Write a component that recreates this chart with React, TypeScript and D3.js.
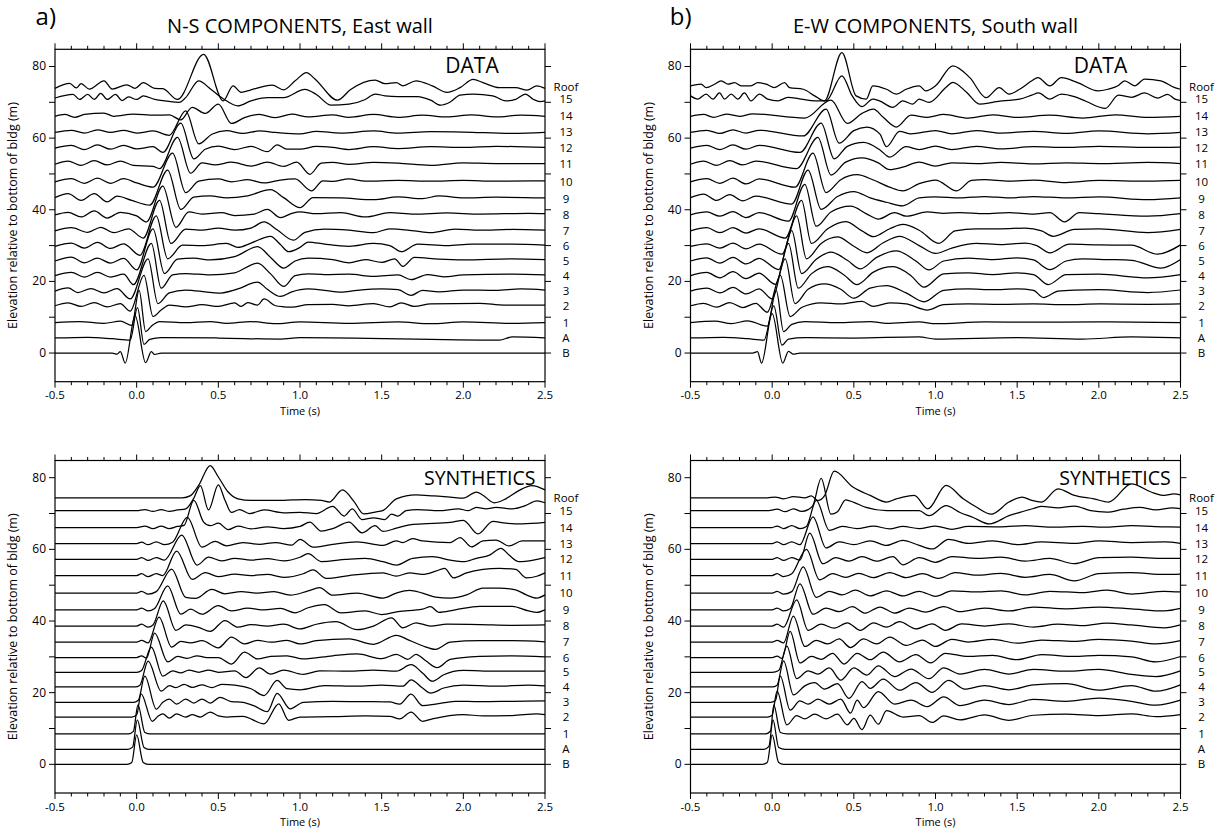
import React from "react";
import * as d3 from "d3";

const stationLabels = ["B", "A", "1", "2", "3", "4", "5", "6", "7", "8", "9", "10", "11", "12", "13", "14", "15", "Roof"];
const baseElev = [0, 4.2, 8.5, 13.2, 17.3, 21.6, 25.7, 29.8, 34.1, 38.6, 43.1, 47.8, 52.7, 57.2, 61.6, 66.1, 70.8, 74.4];
const timeLabels = [-0.5, 0, 0.5, 1, 1.5, 2, 2.5];
const elevLabels = [0, 20, 40, 60, 80];

// traces: [t, offset(m), t, offset, ...] ordered B, A, 1..15, Roof
const nsData: number[][] = [
  [-0.5,0, -0.15,0, -0.12,-0.3, -0.1,0.4, -0.07,-2.8, -0.01,10.5, 0.055,-2.7, 0.09,0.4, 0.11,-0.4, 0.15,0, 2.5,0],
  [-0.5,0, -0.3,0.2, -0.15,-0.2, -0.04,-0.6, 0.005,8.5, 0.045,-1.8, 0.08,-0.4, 0.15,0.1, 0.5,0, 0.88,-0.3, 1.0,0.1, 2.22,-0.6, 2.3,0.3, 2.5,0],
  [-0.5,0, -0.35,0.3, -0.2,-0.2, -0.1,0.4, -0.03,-0.8, 0.015,9, 0.055,-2.5, 0.09,-1, 0.14,0.3, 0.3,0, 0.45,0.3, 0.55,-0.2, 0.7,0.3, 0.85,-0.3, 1.0,0.2, 1.3,-0.2, 1.6,0.2, 1.8,-0.3, 2.0,0.2, 2.3,-0.2, 2.5,0],
  [-0.5,0, -0.42,0.8, -0.34,-0.2, -0.26,0.9, -0.18,-0.3, -0.1,0.6, -0.04,-1.5, 0.045,8.5, 0.1,-3, 0.15,-1.2, 0.2,0.2, 0.3,-0.3, 0.4,0.3, 0.5,-0.2, 0.6,0.8, 0.64,-0.2, 0.68,0.9, 0.74,0.2, 0.78,1.9, 0.85,0, 0.9,-0.3, 0.95,-0.4, 1.05,0.3, 1.2,0.4, 1.3,0, 1.45,0.6, 1.55,-0.3, 1.62,0.8, 1.7,-0.2, 1.8,0.5, 2.1,0.7, 2.25,0.2, 2.5,0.2],
  [-0.5,0, -0.42,0.9, -0.36,-0.4, -0.28,0.7, -0.2,-0.5, -0.12,0.7, -0.04,-2.2, 0.07,9, 0.13,-3.5, 0.2,-0.5, 0.3,0.3, 0.42,-0.2, 0.5,-0.6, 0.62,0.6, 0.74,2.5, 0.8,0.5, 0.88,-1.5, 0.95,-0.2, 1.05,0.6, 1.15,0.2, 1.25,-0.3, 1.35,0.2, 1.5,0.6, 1.6,0.4, 1.68,-1.2, 1.75,0.2, 1.85,-0.2, 2.0,0.3, 2.2,0.2, 2.35,0.6, 2.5,0.3],
  [-0.5,0, -0.4,0.9, -0.32,-0.4, -0.24,0.9, -0.16,-0.4, -0.08,0.4, -0.02,-2.5, 0.09,9, 0.15,-3.5, 0.22,0.2, 0.3,0.6, 0.45,0.2, 0.6,0.8, 0.74,3.5, 0.82,0.5, 0.9,-3.0, 0.97,0, 1.05,0.5, 1.15,0.3, 1.3,0.4, 1.45,-0.2, 1.6,0.2, 1.68,-1.1, 1.78,0.3, 1.88,-0.3, 2.0,0.2, 2.3,0.4, 2.5,0.2],
  [-0.5,0, -0.4,1.1, -0.32,-0.5, -0.24,0.8, -0.16,-0.6, -0.08,0.7, 0,-2.5, 0.1,9, 0.17,-3.5, 0.25,0.5, 0.35,0.8, 0.45,0.3, 0.6,1.2, 0.74,4.0, 0.82,1.0, 0.9,-2.0, 0.97,0, 1.05,0.8, 1.2,0.4, 1.3,-0.5, 1.4,0.4, 1.5,-0.4, 1.58,0.6, 1.63,-1.5, 1.7,1.0, 1.85,0.5, 2.0,0.3, 2.3,0.6, 2.5,0.4],
  [-0.5,0, -0.4,0.9, -0.32,-0.5, -0.24,1.1, -0.16,-0.6, -0.08,0.7, 0.02,-2.5, 0.12,8.5, 0.19,-3.5, 0.28,0.3, 0.4,0.2, 0.55,0.8, 0.62,-0.3, 0.7,0.9, 0.82,2.8, 0.88,0.5, 0.93,-1.5, 1.0,-0.3, 1.05,1.2, 1.15,0.6, 1.3,0, 1.45,0.8, 1.55,0.2, 1.62,-1.5, 1.72,0.6, 1.9,0.2, 2.05,0.6, 2.3,0.6, 2.5,0.3],
  [-0.5,0, -0.4,0.9, -0.3,-0.4, -0.22,1.0, -0.14,-0.5, -0.05,0.6, 0.04,-2.0, 0.14,8.5, 0.21,-3.5, 0.3,0.5, 0.4,0.2, 0.5,0.8, 0.6,0.2, 0.7,0.8, 0.78,2.5, 0.86,0.3, 0.96,-2.6, 1.03,-0.4, 1.15,0.5, 1.3,0.2, 1.45,-0.5, 1.55,0.6, 1.7,0, 1.8,-0.5, 1.95,0.5, 2.1,0.2, 2.3,0.4, 2.5,0.2],
  [-0.5,0, -0.42,0.7, -0.34,-0.6, -0.26,1.1, -0.18,-0.9, -0.1,0.7, 0,-0.3, 0.06,-2.0, 0.16,8, 0.24,-3.5, 0.32,0.8, 0.4,0.2, 0.52,0.6, 0.6,-0.2, 0.72,0.2, 0.8,1.5, 0.88,-0.8, 0.95,0.4, 1.0,0.8, 1.1,0.3, 1.25,0.6, 1.4,-0.6, 1.55,0.6, 1.7,0.2, 1.9,0.5, 2.1,0.2, 2.4,0.4, 2.5,0.3],
  [-0.5,0.3, -0.42,1.4, -0.34,-0.5, -0.26,1.4, -0.18,-0.9, -0.12,0.7, -0.03,-0.5, 0.08,-1.8, 0.19,8, 0.27,-3, 0.35,0.4, 0.45,0.8, 0.55,0.2, 0.68,0.8, 0.82,2.5, 0.9,0.3, 1.0,-2.5, 1.08,0.3, 1.25,0.2, 1.45,-0.3, 1.6,0.5, 1.75,0, 1.85,0.8, 2.0,0.2, 2.2,0.4, 2.5,0.2],
  [-0.5,0, -0.4,0.9, -0.32,-0.4, -0.24,1.0, -0.16,-0.4, -0.08,0.9, 0,-0.3, 0.1,-1.5, 0.22,8, 0.3,-3, 0.38,0.2, 0.5,0.8, 0.58,0, 0.68,0.6, 0.78,-0.3, 0.88,0.5, 0.97,0.8, 1.07,-2.5, 1.14,0.3, 1.2,0.1, 1.3,0.8, 1.4,0.2, 1.6,0.4, 1.8,0.2, 2.0,0.4, 2.2,0.2, 2.5,0.3],
  [-0.5,0, -0.42,0.9, -0.34,-0.3, -0.26,1.0, -0.18,-0.2, -0.1,0.9, -0.02,-0.3, 0.1,-0.6, 0.14,-1.2, 0.25,7.5, 0.33,-2.5, 0.4,0.4, 0.48,-0.2, 0.58,0.6, 0.7,-0.5, 0.8,0.6, 0.9,-0.6, 0.98,0.6, 1.06,-2.8, 1.13,0.3, 1.2,0.5, 1.3,0, 1.45,0.5, 1.6,0.3, 1.8,-0.3, 2.0,0.4, 2.2,0.2, 2.5,0.2],
  [-0.5,0, -0.4,0.8, -0.32,-0.4, -0.24,0.9, -0.16,-0.3, -0.08,0.8, 0,-0.2, 0.1,0.4, 0.16,-1.2, 0.27,7, 0.35,-3, 0.42,-0.3, 0.5,0.6, 0.6,-0.4, 0.7,0.5, 0.8,-1.0, 0.86,0.9, 0.92,-0.3, 1.0,-0.3, 1.1,0.5, 1.2,0.2, 1.3,-0.4, 1.45,0.4, 1.6,-0.1, 1.8,0.4, 2.0,0.2, 2.2,0.5, 2.5,0.2],
  [-0.5,0, -0.4,0.6, -0.32,-0.2, -0.24,0.7, -0.16,0, -0.08,0.6, 0,-0.2, 0.1,0.4, 0.2,-0.8, 0.3,6, 0.38,-3.2, 0.46,-0.5, 0.55,0.5, 0.65,-0.3, 0.75,0.4, 0.85,0, 1.0,-0.4, 1.1,0.3, 1.25,-0.2, 1.45,0.4, 1.6,-0.2, 1.8,0.2, 2.0,0.1, 2.3,-0.3, 2.5,0],
  [-0.5,0, -0.44,0.5, -0.38,-0.3, -0.32,0.5, -0.2,0.9, -0.14,0, -0.02,0.6, 0.11,0.3, 0.2,0.4, 0.27,-1.0, 0.34,2.5, 0.42,0.8, 0.5,3.4, 0.58,-2.0, 0.66,-0.4, 0.75,0.5, 0.85,-0.4, 0.95,0.6, 1.05,-0.2, 1.2,0.4, 1.3,-0.3, 1.45,0.5, 1.6,-0.3, 1.75,0.3, 1.9,-0.2, 2.05,0.4, 2.2,-0.2, 2.35,0.3, 2.5,0],
  [-0.5,0.4, -0.39,1.4, -0.35,0, -0.3,1.4, -0.26,0, -0.22,1.7, -0.18,0, -0.13,1.4, -0.09,-0.3, -0.05,0.7, 0,0, 0.04,1.0, 0.11,0, 0.19,-0.5, 0.26,-0.8, 0.3,0.5, 0.38,5.2, 0.45,3.0, 0.53,0.2, 0.62,-1.8, 0.7,-0.4, 0.8,0.5, 0.9,0.5, 1.03,2.8, 1.1,1.4, 1.19,-1.6, 1.3,-1.3, 1.4,0, 1.46,1.5, 1.52,1.0, 1.6,0.8, 1.72,0.8, 1.8,-0.2, 1.86,-1.6, 1.92,-0.7, 1.98,1.2, 2.06,1.5, 2.18,1.0, 2.26,-0.4, 2.32,0, 2.38,1.5, 2.43,0, 2.47,-0.6, 2.5,-0.4],
  [-0.5,-0.5, -0.41,0.9, -0.37,-0.4, -0.34,0.8, -0.29,-0.7, -0.2,1.6, -0.15,-0.7, -0.06,0.5, -0.01,-0.5, 0.04,1.1, 0.11,-0.5, 0.16,-0.6, 0.25,-3.6, 0.41,9.0, 0.53,-4.0, 0.59,0.2, 0.64,-1.6, 0.7,-0.9, 0.83,0.4, 0.9,-0.9, 0.97,1.6, 1.04,3.9, 1.09,2.2, 1.23,-3.8, 1.31,-0.8, 1.46,1.8, 1.52,0.8, 1.59,1.1, 1.63,0.2, 1.71,1.6, 1.81,0.2, 1.9,-1.6, 1.98,-0.3, 2.06,2.0, 2.12,1.1, 2.22,-0.3, 2.32,-0.3, 2.39,-1.0, 2.45,0.2, 2.5,-0.5],
];

const ewData: number[][] = [
  [-0.5,0, -0.12,0, -0.09,0.4, -0.065,-2.8, 0,11, 0.065,-2.8, 0.1,0.5, 0.13,-0.3, 0.17,0, 2.5,0],
  [-0.5,0, -0.3,0.2, -0.15,-0.2, -0.05,-0.6, 0.01,9, 0.06,-2, 0.1,-0.3, 0.2,0.1, 0.5,0, 0.9,0.3, 1.0,-0.3, 1.5,0.1, 1.9,-0.3, 2.2,0.3, 2.5,0],
  [-0.5,0, -0.35,0.4, -0.25,-0.3, -0.15,0.5, -0.03,-1, 0.025,9, 0.07,-2.5, 0.12,-0.5, 0.2,0.3, 0.4,0, 0.6,0.3, 0.7,-0.2, 0.9,0.2, 1.0,-0.3, 1.3,0.2, 1.6,0.1, 2.0,0.2, 2.5,0],
  [-0.5,0, -0.42,0.7, -0.34,-0.4, -0.26,0.9, -0.18,-0.5, -0.1,0.7, -0.03,-1.8, 0.05,8.5, 0.11,-3, 0.18,-0.5, 0.3,0.8, 0.42,0.5, 0.55,1.2, 0.62,-0.2, 0.72,0.8, 0.82,0.5, 0.95,-1.2, 1.05,0.3, 1.2,0.5, 1.4,0.4, 1.6,0.5, 1.8,0.3, 2.0,0.5, 2.3,0.4, 2.5,0.5],
  [-0.5,0, -0.4,0.8, -0.32,-0.5, -0.24,1.0, -0.16,-0.8, -0.08,0.6, 0,-2.2, 0.08,9, 0.14,-3.5, 0.22,0.5, 0.32,2.0, 0.42,0.5, 0.5,-2.0, 0.6,0.8, 0.7,1.5, 0.82,-0.5, 0.93,-3.0, 1.05,0.2, 1.2,0.6, 1.35,0.4, 1.5,0.6, 1.6,0.2, 1.66,-1.8, 1.75,0.0, 1.85,0.3, 2.0,0.4, 2.3,-0.4, 2.5,0.3],
  [-0.5,0, -0.4,0.9, -0.32,-0.6, -0.24,1.1, -0.16,-0.8, -0.08,0.7, 0.02,-2.4, 0.1,9, 0.16,-3.5, 0.24,0.5, 0.34,2.5, 0.44,0.2, 0.52,-2.5, 0.62,1.0, 0.74,2.5, 0.85,0, 0.93,-3.2, 1.05,0.5, 1.2,0.8, 1.35,0.3, 1.5,0.8, 1.6,0.3, 1.69,-2.5, 1.8,0.3, 2.0,0.4, 2.3,-0.6, 2.5,0.3],
  [-0.5,0, -0.4,0.9, -0.32,-0.6, -0.24,1.0, -0.16,-0.8, -0.08,0.7, 0.04,-2.4, 0.12,8.5, 0.18,-3.5, 0.27,0.5, 0.36,2.5, 0.46,0.2, 0.54,-2.2, 0.64,1.0, 0.76,2.8, 0.88,0, 0.96,-2.5, 1.05,0, 1.2,0.8, 1.35,0.4, 1.5,0.9, 1.6,0.3, 1.7,-2.4, 1.8,0.0, 1.9,0.6, 2.05,0.4, 2.2,0.2, 2.38,-2.0, 2.5,0.4],
  [-0.5,0, -0.4,0.7, -0.32,-0.5, -0.24,0.9, -0.16,-0.7, -0.08,0.6, 0.06,-2.2, 0.15,8.5, 0.21,-3.5, 0.3,0.8, 0.4,2.6, 0.5,0, 0.58,-1.8, 0.68,1.0, 0.78,2.8, 0.9,0.2, 1.0,-2.0, 1.1,-0.5, 1.25,0.8, 1.4,0.5, 1.55,0.9, 1.62,0.2, 1.7,-1.8, 1.82,0.6, 2.0,0.4, 2.2,0.3, 2.36,-2.2, 2.5,0.4],
  [-0.5,0, -0.4,0.9, -0.32,-0.5, -0.24,0.9, -0.16,-0.6, -0.08,0.6, 0.08,-2, 0.18,8.5, 0.24,-3.5, 0.34,0.6, 0.45,2.6, 0.55,0, 0.62,-1.6, 0.72,0.6, 0.8,1.8, 0.9,0.2, 1.02,-3.5, 1.12,0, 1.25,0.6, 1.4,0.6, 1.55,0.8, 1.65,0, 1.72,-1.5, 1.85,0.4, 2.0,0.6, 2.3,-0.5, 2.5,0.4],
  [-0.5,0, -0.4,0.8, -0.32,-0.4, -0.24,0.9, -0.16,-0.8, -0.08,0.6, 0.1,-1.8, 0.2,8.5, 0.27,-3.2, 0.36,0.8, 0.48,2.4, 0.58,0.2, 0.65,-1.2, 0.75,0.6, 0.82,-0.4, 0.95,0.8, 1.05,0.4, 1.15,0.6, 1.3,0.3, 1.45,0.6, 1.6,0.2, 1.7,0.6, 1.79,-2.0, 1.88,0.6, 2.0,0.3, 2.3,-0.4, 2.5,0.3],
  [-0.5,0.3, -0.42,1.3, -0.34,-0.5, -0.26,1.1, -0.18,-0.6, -0.1,0.7, 0.12,-1.5, 0.22,8, 0.3,-3, 0.4,0.6, 0.5,2.0, 0.6,0.2, 0.7,-1.0, 0.8,-2.0, 0.9,0.2, 1.0,0.5, 1.15,0.2, 1.3,0.6, 1.45,0.2, 1.6,0.6, 1.8,0.2, 2.0,0.5, 2.3,-0.3, 2.5,0.2],
  [-0.5,0, -0.4,0.9, -0.32,-0.4, -0.24,1.0, -0.16,-0.6, -0.08,0.8, 0.14,-1.5, 0.25,8, 0.33,-3, 0.42,0.6, 0.52,2.0, 0.62,0.5, 0.72,-1.5, 0.8,-2.5, 0.9,-0.5, 1.0,0.5, 1.13,-2.5, 1.22,0.4, 1.3,0.6, 1.45,0.2, 1.6,0.5, 1.8,-0.2, 2.0,0.4, 2.3,0.2, 2.5,0.4],
  [-0.5,0, -0.42,0.9, -0.34,-0.3, -0.26,1.0, -0.18,-0.2, -0.1,0.9, 0.15,-1.2, 0.28,7.5, 0.36,-3, 0.45,0.6, 0.55,1.8, 0.65,0.4, 0.72,-1.5, 0.8,-0.8, 0.9,0.6, 1.0,-0.5, 1.1,0.4, 1.25,0.2, 1.4,0.5, 1.6,0.1, 1.8,0.4, 2.0,0.2, 2.3,0.5, 2.5,0.2],
  [-0.5,0, -0.4,0.8, -0.32,-0.4, -0.24,0.9, -0.16,-0.3, -0.08,0.8, 0.17,-1.2, 0.3,7, 0.38,-3, 0.46,0.5, 0.56,1.6, 0.66,-0.5, 0.72,-2.5, 0.82,0.4, 0.9,-0.4, 1.0,0.6, 1.1,-0.4, 1.25,0.5, 1.4,-0.2, 1.6,0.4, 1.8,0.2, 2.0,0.5, 2.3,0.2, 2.5,0.3],
  [-0.5,0, -0.4,0.6, -0.32,-0.3, -0.24,0.7, -0.16,-0.2, -0.08,0.6, 0.19,-1.0, 0.33,6.5, 0.41,-3, 0.5,0.5, 0.58,1.5, 0.66,-0.5, 0.7,-4.0, 0.78,0.3, 0.85,-0.4, 1.0,0.5, 1.1,-0.4, 1.25,0.5, 1.4,-0.2, 1.6,0.3, 1.8,-0.3, 2.0,0.4, 2.3,-0.4, 2.5,0],
  [-0.5,0, -0.42,0.5, -0.36,-0.3, -0.28,0.6, -0.2,0, -0.12,0.7, 0.2,-0.5, 0.36,4.5, 0.46,-2, 0.55,0.8, 0.62,2.0, 0.68,-0.3, 0.76,-3.0, 0.85,0.3, 0.95,-0.3, 1.05,0.5, 1.2,-0.5, 1.35,0.4, 1.5,-0.3, 1.7,0.3, 1.9,-0.5, 2.1,0.4, 2.3,-0.3, 2.5,0],
  [-0.5,1.0, -0.455,0.1, -0.404,1.5, -0.363,0.1, -0.322,1.8, -0.292,0.1, -0.251,1.5, -0.21,0.1, -0.17,1.8, -0.129,-0.4, -0.078,1.5, -0.027,0.1, 0.035,-0.4, 0.096,0.55, 0.178,0.1, 0.26,-0.4, 0.33,-0.4, 0.427,6.6, 0.49,1.0, 0.55,-2.0, 0.616,0.1, 0.657,-0.4, 0.739,-2.2, 0.8,-0.4, 0.86,-1.3, 0.9,0.1, 0.96,-0.8, 1.065,3.4, 1.106,4.8, 1.19,2.0, 1.27,-1.3, 1.35,-0.8, 1.41,-0.4, 1.515,0.1, 1.59,1.2, 1.63,1.8, 1.7,0.1, 1.77,1.5, 1.85,0.8, 1.92,-0.5, 2.04,-2.5, 2.12,1.2, 2.2,0.6, 2.28,1.8, 2.36,0.4, 2.42,1.4, 2.47,0.0, 2.5,-0.3],
  [-0.5,0.2, -0.435,0.65, -0.404,-0.3, -0.353,0.65, -0.312,1.6, -0.27,0.65, -0.23,1.1, -0.19,0.2, -0.13,0.2, -0.088,1.1, -0.037,0.65, 0.014,-0.3, 0.076,1.1, 0.106,-0.3, 0.19,-0.75, 0.26,-2.6, 0.32,-4.0, 0.427,9.5, 0.514,-2.6, 0.576,-3.5, 0.616,0.2, 0.7,-0.75, 0.76,-2.1, 0.82,-0.75, 0.9,0.2, 0.94,-1.2, 1.0,0.2, 1.106,5.8, 1.21,2.5, 1.31,-3.1, 1.39,-0.3, 1.45,-2.1, 1.515,-0.75, 1.59,1.6, 1.627,2.5, 1.7,0.2, 1.77,2.5, 1.87,1.1, 1.995,-1.2, 2.056,-0.75, 2.117,0.2, 2.158,1.6, 2.22,0.2, 2.28,2.05, 2.38,1.6, 2.465,-0.3, 2.5,-0.75],
];

const nsSynth: number[][] = [
  [-0.5,0, -0.06,0, -0.03,0.5, 0.0,8.2, 0.04,0.5, 0.07,0, 2.5,0],
  [-0.5,0, -0.055,0, -0.025,0.6, 0.004,8.2, 0.045,0.5, 0.075,0, 2.5,0],
  [-0.5,0, -0.05,0, -0.02,0.7, 0.008,8.1, 0.05,0.4, 0.085,0, 2.5,0],
  [-0.5,0, -0.03,0, 0.0,0.6, 0.027,6.5, 0.096,-1.2, 0.13,0.2, 0.16,0.9, 0.2,-0.3, 0.245,0.9, 0.3,0, 0.34,0.65, 0.39,0, 0.45,1.4, 0.5,0.3, 0.55,0, 0.65,0.2, 0.78,-1.9, 0.87,3.7, 0.93,-0.9, 1.0,0, 1.2,0.1, 1.4,0.3, 1.55,0.2, 1.61,-0.5, 1.68,1.4, 1.75,-1.2, 1.81,-0.5, 2.0,0.7, 2.12,0.3, 2.3,0.4, 2.45,0.9, 2.5,0.7],
  [-0.5,0, -0.02,0, 0.01,0.6, 0.05,7.3, 0.12,-1.9, 0.16,0, 0.2,0.9, 0.245,-0.5, 0.3,0.9, 0.35,-0.2, 0.4,0.9, 0.45,-0.2, 0.51,1.4, 0.58,0.2, 0.65,0, 0.72,-1.0, 0.8,-2.6, 0.86,2.5, 0.94,-1.8, 1.02,0, 1.2,0.3, 1.4,0.2, 1.55,0.1, 1.61,-0.5, 1.68,2.3, 1.75,-0.9, 1.83,-0.5, 1.95,0.3, 2.1,0.2, 2.3,0.3, 2.5,0.4],
  [-0.5,0, -0.01,0, 0.02,0.5, 0.07,7.2, 0.15,-1.2, 0.2,0.4, 0.24,-0.2, 0.29,0.7, 0.34,-0.1, 0.4,0.6, 0.46,-0.2, 0.52,0.7, 0.6,0.5, 0.7,-0.5, 0.78,-2.4, 0.86,1.8, 0.92,-0.5, 1.0,-0.8, 1.15,0.4, 1.35,0.2, 1.5,0.5, 1.63,0.2, 1.68,2.0, 1.75,-0.3, 1.8,-1.7, 1.88,-0.3, 2.0,0.5, 2.2,0.2, 2.4,0.5, 2.5,0.3],
  [-0.5,0, 0.0,0, 0.03,0.5, 0.09,7.0, 0.16,-1.1, 0.22,0.4, 0.27,-0.2, 0.32,0.6, 0.38,0.0, 0.44,0.6, 0.5,0, 0.6,0.4, 0.67,-1.5, 0.75,1.2, 0.82,-0.5, 0.9,0.6, 1.02,-0.6, 1.12,0.4, 1.3,0.3, 1.45,0.6, 1.59,0.3, 1.68,2.1, 1.75,-0.2, 1.81,-2.5, 1.88,-0.7, 2.0,0.5, 2.2,0.3, 2.5,0.3],
  [-0.5,0, 0.0,0, 0.03,0.5, 0.06,-0.2, 0.11,6.8, 0.19,-1.2, 0.25,0.3, 0.31,-0.2, 0.37,0.5, 0.43,0, 0.5,0, 0.58,-1.8, 0.66,1.5, 0.74,-0.4, 0.82,0.3, 0.92,0.5, 1.02,-0.4, 1.2,0.5, 1.35,1.0, 1.5,-0.3, 1.59,0.9, 1.66,-0.5, 1.71,0.9, 1.77,-0.9, 1.84,-2.8, 1.92,-0.5, 2.1,0.3, 2.3,0.5, 2.5,0.2],
  [-0.5,0, 0.0,0, 0.03,0.5, 0.07,-0.2, 0.137,7.0, 0.214,-1.4, 0.27,0.2, 0.33,-0.2, 0.4,0.4, 0.5,-1.6, 0.58,1.4, 0.66,-0.5, 0.74,0.5, 0.82,0, 0.92,0.5, 1.0,-0.5, 1.1,0.4, 1.3,0.9, 1.45,-0.6, 1.59,1.9, 1.67,0.5, 1.75,-1.0, 1.83,-2.0, 1.92,0.0, 2.1,0.4, 2.3,0.4, 2.5,0.1],
  [-0.5,0, 0.0,0, 0.03,0.5, 0.07,-0.3, 0.1,0.3, 0.163,7.0, 0.24,-1.2, 0.3,0.3, 0.38,-0.4, 0.45,-1.5, 0.54,1.5, 0.62,-0.3, 0.7,0.4, 0.8,0, 0.9,0.5, 1.0,-0.8, 1.1,0.5, 1.22,1.2, 1.35,-1.0, 1.45,0.0, 1.56,2.3, 1.63,-0.5, 1.71,0.9, 1.8,0.0, 1.9,0.5, 2.1,0.4, 2.3,0.2, 2.5,0.3],
  [-0.5,0, 0.0,0, 0.03,0.5, 0.07,-0.3, 0.11,0.4, 0.19,6.7, 0.27,-1.2, 0.33,0.2, 0.4,-1.2, 0.5,1.2, 0.58,-0.3, 0.68,0.5, 0.78,0, 0.88,0.4, 0.97,-0.8, 1.05,0.6, 1.15,1.5, 1.25,-0.8, 1.4,-0.3, 1.5,-1.3, 1.6,-0.5, 1.75,0.2, 1.8,0.9, 1.85,-0.7, 1.95,0.0, 2.1,1.0, 2.3,1.0, 2.4,-0.3, 2.45,-0.7, 2.5,0.0],
  [-0.5,0, 0.0,0, 0.03,0.5, 0.07,-0.3, 0.12,0.4, 0.214,6.7, 0.3,-1.2, 0.36,-1.5, 0.46,1.0, 0.54,-0.2, 0.64,0.4, 0.74,0, 0.84,0.4, 0.94,-0.6, 1.05,0.6, 1.12,1.5, 1.2,-0.6, 1.35,0.0, 1.508,-1.4, 1.59,0.0, 1.67,0.75, 1.75,0.0, 1.83,-1.1, 1.92,-1.4, 2.02,-0.5, 2.12,1.4, 2.22,1.4, 2.32,0.9, 2.386,-0.5, 2.45,-1.4, 2.5,-0.5],
  [-0.5,0, 0.0,0, 0.03,0.5, 0.07,-0.3, 0.12,0.5, 0.16,0.0, 0.245,6.8, 0.34,-1.1, 0.42,0.8, 0.5,-0.3, 0.6,0.4, 0.7,0, 0.8,0.3, 0.9,-0.5, 1.02,0.5, 1.08,1.6, 1.16,-0.8, 1.3,0.0, 1.508,0.75, 1.59,-0.2, 1.67,0.75, 1.75,0.3, 1.83,1.2, 1.885,2.0, 1.94,-0.65, 2.02,0.75, 2.12,1.7, 2.22,2.0, 2.32,1.7, 2.386,-0.65, 2.45,-0.2, 2.5,0.75],
  [-0.5,0, 0.0,0, 0.03,0.5, 0.07,-0.3, 0.12,0.5, 0.17,-0.2, 0.276,6.8, 0.37,-1.6, 0.44,0.6, 0.52,-0.4, 0.6,0.3, 0.7,-0.2, 0.8,0.2, 0.9,-0.4, 1.0,0.6, 1.05,1.6, 1.13,-0.6, 1.28,0.0, 1.4,0.3, 1.508,-0.65, 1.59,-1.6, 1.69,0.3, 1.81,0.75, 1.92,-0.2, 2.0,-0.65, 2.08,0.3, 2.16,1.2, 2.23,3.1, 2.28,1.2, 2.34,-0.65, 2.43,-0.2, 2.5,0.5],
  [-0.5,0, 0.0,0, 0.03,0.4, 0.07,-0.3, 0.12,0.5, 0.17,-0.3, 0.22,0.4, 0.31,7.3, 0.4,-1.0, 0.48,0.6, 0.55,-0.6, 0.65,0.3, 0.75,-0.2, 0.85,0.3, 0.95,-0.4, 1.0,1.2, 1.08,-1.0, 1.2,-0.2, 1.35,0.5, 1.508,-0.5, 1.59,0.75, 1.63,0.3, 1.69,1.4, 1.75,0.75, 1.92,0.3, 1.98,1.7, 2.05,-0.9, 2.12,0.75, 2.2,1.0, 2.28,-0.65, 2.36,0.75, 2.5,0.75],
  [-0.5,0, 0.0,0, 0.05,0.4, 0.1,-0.3, 0.15,0.4, 0.2,-0.3, 0.25,0.3, 0.29,0.6, 0.35,7.6, 0.41,1.5, 0.45,0.5, 0.5,1.2, 0.56,-0.6, 0.62,0.4, 0.7,-0.4, 0.8,0.2, 0.9,-0.3, 1.0,0.3, 1.06,1.5, 1.13,-1.0, 1.2,-0.3, 1.3,1.5, 1.38,-1.5, 1.46,0.5, 1.508,-1.1, 1.59,-0.2, 1.67,0.75, 1.75,1.0, 1.92,1.4, 2.0,2.0, 2.09,-1.8, 2.18,1.7, 2.26,1.2, 2.36,1.0, 2.5,1.4],
  [-0.5,0, 0.0,0, 0.05,0.3, 0.1,-0.2, 0.15,0.3, 0.2,-0.2, 0.25,0.2, 0.3,0.5, 0.35,3.5, 0.39,7.0, 0.44,0.2, 0.5,7.2, 0.54,3, 0.58,-0.5, 0.63,0.3, 0.69,-0.8, 0.78,0.2, 0.9,-0.6, 1.0,-0.5, 1.1,-0.8, 1.2,1.2, 1.27,-1.5, 1.32,0.5, 1.38,-2.5, 1.45,-2.0, 1.52,-2.5, 1.56,-1.0, 1.6,-1.5, 1.65,0.0, 1.72,0.3, 1.85,0.0, 1.97,0.5, 2.03,0.0, 2.08,0.9, 2.14,0.5, 2.2,0.9, 2.3,0.5, 2.38,1.4, 2.45,2.7, 2.5,2.2],
  [-0.5,0, 0.28,0, 0.33,0.6, 0.38,3.5, 0.45,9.0, 0.5,5.8, 0.56,1.6, 0.62,-0.3, 0.7,-0.75, 0.8,-0.75, 0.9,-0.7, 1.03,-0.5, 1.13,-0.75, 1.18,-1.2, 1.26,2.2, 1.33,-1.0, 1.39,-4.5, 1.46,-4.0, 1.51,-3.5, 1.59,-0.3, 1.71,0.8, 1.82,0.5, 1.92,0.2, 2.0,-0.1, 2.08,1.6, 2.12,0.7, 2.19,-1.4, 2.26,-0.3, 2.34,2.0, 2.42,3.4, 2.5,2.2],
];

const ewSynth: number[][] = [
  [-0.5,0, -0.06,0, -0.03,0.5, 0.0,8.2, 0.04,0.5, 0.07,0, 2.5,0],
  [-0.5,0, -0.05,0, -0.02,0.8, 0.005,8.2, 0.04,0.5, 0.08,0, 2.5,0],
  [-0.5,0, -0.04,0, -0.01,0.8, 0.01,8.1, 0.05,0.4, 0.09,0, 2.5,0],
  [-0.5,0, -0.03,0, 0.0,0.5, 0.03,7.2, 0.09,-2.2, 0.15,0.4, 0.2,-0.5, 0.26,0.8, 0.33,-0.5, 0.4,0.8, 0.46,-2.2, 0.5,-0.4, 0.55,-3.5, 0.6,0.5, 0.65,-2.0, 0.7,1.8, 0.8,0, 0.9,0.4, 0.98,-1.5, 1.05,0.3, 1.15,-0.8, 1.3,0.6, 1.45,-0.9, 1.6,0.5, 1.8,0.8, 2.0,0.4, 2.2,0.9, 2.35,0.1, 2.5,0.7],
  [-0.5,0, -0.01,0, 0.02,0.5, 0.05,7.3, 0.11,-2.2, 0.17,0.4, 0.22,-0.5, 0.28,0.9, 0.35,-0.5, 0.42,0.9, 0.48,-3.0, 0.52,0.6, 0.56,-1.5, 0.65,3.0, 0.75,-0.5, 0.85,0.6, 0.95,-1.2, 1.05,1.5, 1.15,-0.9, 1.3,0.6, 1.45,-0.6, 1.6,0.8, 1.8,0.3, 2.0,1.2, 2.2,0.3, 2.35,-0.8, 2.5,0.6],
  [-0.5,0, 0.0,0, 0.03,0.5, 0.07,7.3, 0.13,-2.2, 0.2,0.3, 0.26,1.2, 0.32,-0.6, 0.4,0.9, 0.47,-3.2, 0.55,1.5, 0.6,-0.4, 0.68,2.2, 0.78,-0.9, 0.88,1.2, 0.98,-1.5, 1.08,1.8, 1.18,-0.6, 1.3,0.4, 1.45,-0.8, 1.6,0.6, 1.8,0.9, 2.0,-0.9, 2.2,0.4, 2.35,-1.2, 2.5,0.6],
  [-0.5,0, 0.0,0, 0.04,0.5, 0.09,7.3, 0.15,-1.8, 0.22,0.4, 0.28,-0.5, 0.35,1.2, 0.42,-2.2, 0.5,1.2, 0.58,-0.8, 0.65,1.8, 0.75,-1.2, 0.85,0.9, 0.96,-1.8, 1.05,1.2, 1.15,-0.5, 1.3,0.8, 1.45,-0.5, 1.6,0.8, 1.8,0.3, 2.0,0.8, 2.2,-0.6, 2.35,-1.2, 2.5,0.4],
  [-0.5,0, 0.0,0, 0.03,0.4, 0.06,-0.2, 0.11,7.3, 0.17,-1.5, 0.24,0.3, 0.3,-0.5, 0.37,1.2, 0.44,-1.8, 0.52,1.2, 0.6,-0.6, 0.68,1.5, 0.78,-1.2, 0.88,0.8, 0.97,-1.5, 1.06,1.2, 1.2,0.3, 1.35,0.6, 1.5,-0.6, 1.65,0.8, 1.85,0.3, 2.0,0.6, 2.2,0.2, 2.35,-1.2, 2.5,0.3],
  [-0.5,0, 0.0,0, 0.03,0.5, 0.07,-0.2, 0.13,7.3, 0.2,-1.2, 0.27,0.5, 0.34,-0.5, 0.41,0.9, 0.48,-1.5, 0.56,0.9, 0.64,-0.5, 0.72,1.4, 0.82,-0.9, 0.92,0.6, 1.0,-1.2, 1.1,0.8, 1.2,0.0, 1.35,0.8, 1.5,-0.3, 1.65,0.6, 1.85,0.2, 2.0,0.8, 2.2,0.3, 2.35,-0.5, 2.5,0.4],
  [-0.5,0, 0.0,0, 0.03,0.5, 0.07,-0.3, 0.15,7.3, 0.22,-1.2, 0.3,0.5, 0.38,-0.6, 0.46,0.9, 0.54,-1.2, 0.62,0.9, 0.7,-0.3, 0.78,1.2, 0.88,-0.8, 0.98,0.6, 1.06,-1.2, 1.16,0.6, 1.3,0.0, 1.45,0.6, 1.6,-0.3, 1.75,0.5, 1.9,0.1, 2.05,0.8, 2.2,0.3, 2.4,-0.5, 2.5,0.3],
  [-0.5,0, 0.0,0, 0.03,0.5, 0.07,-0.3, 0.11,0.3, 0.17,7.3, 0.25,-1.2, 0.33,0.5, 0.41,-0.5, 0.49,0.9, 0.57,-0.9, 0.66,0.8, 0.75,-0.9, 0.84,0.5, 0.94,-0.6, 1.05,0.9, 1.15,-0.5, 1.3,0.5, 1.45,-0.3, 1.6,0.8, 1.8,0.3, 2.0,0.8, 2.2,0.3, 2.4,-0.3, 2.5,0.4],
  [-0.5,0, 0.0,0, 0.03,0.5, 0.07,-0.3, 0.12,0.4, 0.19,7.3, 0.27,-1.2, 0.35,0.5, 0.43,-0.5, 0.51,0.8, 0.6,-0.8, 0.7,0.6, 0.8,-0.8, 0.9,0.5, 1.0,-0.9, 1.1,0.6, 1.25,0.3, 1.4,0.6, 1.55,-0.5, 1.7,0.5, 1.9,0.1, 2.05,0.8, 2.2,-0.3, 2.4,0.5, 2.5,0.3],
  [-0.5,0, 0.0,0, 0.03,0.5, 0.07,-0.3, 0.12,0.5, 0.21,7.3, 0.29,-1.2, 0.37,0.5, 0.45,-0.5, 0.53,0.6, 0.62,-0.6, 0.72,0.8, 0.82,-0.6, 0.92,0.5, 1.02,-0.8, 1.12,0.8, 1.25,0.1, 1.4,0.6, 1.55,-0.5, 1.7,0.3, 1.85,-1.5, 2.0,0.5, 2.2,0.8, 2.4,0.3, 2.5,0.4],
  [-0.5,0, 0.0,0, 0.03,0.5, 0.07,-0.3, 0.12,0.5, 0.17,-0.2, 0.23,7.3, 0.31,-1.2, 0.39,0.5, 0.47,-0.5, 0.55,0.8, 0.64,-0.5, 0.74,0.8, 0.8,-1.5, 0.9,0.5, 1.0,-0.8, 1.1,0.8, 1.25,0.3, 1.4,0.6, 1.55,-0.5, 1.7,0.3, 1.85,-1.2, 2.0,0.5, 2.2,0.6, 2.4,0.3, 2.5,0.3],
  [-0.5,0, 0.0,0, 0.03,0.5, 0.07,-0.3, 0.12,0.5, 0.17,-0.3, 0.25,7.5, 0.33,-1.2, 0.41,0.5, 0.5,-0.3, 0.6,0.8, 0.7,-0.5, 0.8,0.9, 0.9,-0.5, 0.98,-1.5, 1.08,1.2, 1.2,0.1, 1.35,0.8, 1.5,-0.3, 1.65,0.5, 1.85,0.1, 2.0,0.8, 2.2,0.3, 2.4,0.5, 2.5,0.1],
  [-0.5,0, 0.0,0, 0.03,0.4, 0.07,-0.3, 0.12,0.5, 0.17,-0.3, 0.21,0.3, 0.27,7.6, 0.35,-0.8, 0.43,0.3, 0.52,-0.3, 0.62,0.4, 0.72,-0.4, 0.8,0.3, 0.9,-0.3, 1.0,0.4, 1.1,-0.5, 1.2,0.3, 1.4,0.2, 1.55,0.5, 1.7,0.1, 1.9,0.3, 2.05,0.1, 2.2,0.5, 2.4,0.2, 2.5,0.1],
  [-0.5,0, -0.02,0, 0.03,0.4, 0.08,-0.3, 0.13,0.5, 0.18,-0.2, 0.22,0.3, 0.25,1.5, 0.3,9.0, 0.36,-1.0, 0.4,-0.3, 0.45,3.0, 0.5,2.3, 0.575,0.9, 0.7,0, 0.8,0, 0.9,0, 0.96,-1.4, 1.065,1.4, 1.15,-0.5, 1.23,-1.9, 1.33,-3.7, 1.45,-1.4, 1.53,-0.3, 1.6,0.6, 1.65,1.2, 1.75,0.8, 1.85,1.3, 1.95,0.0, 2.05,-0.4, 2.15,0.4, 2.25,0.9, 2.35,0.2, 2.45,0.8, 2.5,0.6],
  [-0.5,0, -0.03,0, 0.02,0.2, 0.07,-0.3, 0.13,0.3, 0.2,0.0, 0.24,0.5, 0.28,-0.8, 0.32,0.5, 0.38,7.4, 0.494,3.0, 0.6,0.65, 0.7,-1.2, 0.76,-0.3, 0.8,0.2, 0.87,0.65, 0.953,-3.1, 1.065,3.45, 1.17,-0.3, 1.25,-2.6, 1.341,-4.6, 1.45,-1.2, 1.53,0.2, 1.59,-0.75, 1.65,-1.2, 1.75,2.5, 1.85,0.65, 1.97,-0.3, 2.06,-1.2, 2.2,3.9, 2.32,1.6, 2.4,0.65, 2.46,1.1, 2.5,0.8],
];

const W = 1225;
const H = 836;
const FONT = "'Open Sans', 'Liberation Sans', Arial, sans-serif";

type PanelProps = {
  traces: number[][];
  left: number;
  right: number;
  top: number;
  bottom: number;
  heading?: string;
  letter?: string;
  tag: string;
  tagX: number;
};

function Panel({ traces, left, right, top, bottom, heading, letter, tag, tagX }: PanelProps) {
  const x = d3.scaleLinear().domain([-0.5, 2.5]).range([left, right]);
  const y = d3.scaleLinear().domain([-8, 84.8]).range([bottom, top]);
  const line = d3
    .line<[number, number]>()
    .x((d) => x(d[0]))
    .y((d) => y(d[1]))
    .curve(d3.curveMonotoneX);
  const minorT = x.ticks(30);
  const elevTicks = y.ticks(10).filter((v) => v >= 0 && v <= 80);
  const midY = (top + bottom) / 2;
  const isData = tag === "DATA";
  return (
    <g>
      {traces.map((tr, i) => {
        const pts: [number, number][] = [];
        for (let k = 0; k < tr.length; k += 2) pts.push([tr[k], baseElev[i] + tr[k + 1]]);
        return <path key={i} d={line(pts) || ""} fill="none" stroke="#000" strokeWidth={1.25} strokeLinejoin="round" />;
      })}
      <rect x={left} y={top} width={right - left} height={bottom - top} fill="none" stroke="#000" strokeWidth={1.2} />
      {minorT.map((t, i) => {
        const major = Math.abs(t * 2 - Math.round(t * 2)) < 1e-6;
        const len = major ? 6 : 3.5;
        return (
          <g key={"t" + i}>
            <line x1={x(t)} x2={x(t)} y1={top} y2={top - len} stroke="#000" strokeWidth={1} />
            <line x1={x(t)} x2={x(t)} y1={bottom} y2={bottom + len} stroke="#000" strokeWidth={1} />
          </g>
        );
      })}
      {elevTicks.map((v, i) => (
        <g key={"e" + i}>
          <line x1={left} x2={left - 6} y1={y(v)} y2={y(v)} stroke="#000" strokeWidth={1} />
          <line x1={right} x2={right + 6} y1={y(v)} y2={y(v)} stroke="#000" strokeWidth={1} />
        </g>
      ))}
      {timeLabels.map((t, i) => (
        <text key={"tl" + i} x={x(t)} y={bottom + 17.5} textAnchor="middle" fontSize={11.5} fontFamily={FONT}>
          {t.toFixed(1)}
        </text>
      ))}
      <text x={(left + right) / 2} y={bottom + 33} textAnchor="middle" fontSize={11} fontFamily={FONT}>
        Time (s)
      </text>
      {elevLabels.map((v, i) => (
        <text key={"el" + i} x={left - 9} y={y(v) + 4} textAnchor="end" fontSize={12} fontFamily={FONT}>
          {v}
        </text>
      ))}
      <text
        transform={`translate(${left - 38},${midY}) rotate(-90)`}
        textAnchor="middle"
        fontSize={12.5}
        fontFamily={FONT}
      >
        Elevation relative to bottom of bldg (m)
      </text>
      {stationLabels.map((s, i) => (
        <text key={"s" + i} x={right + 21} y={y(baseElev[i]) + 4} textAnchor="middle" fontSize={11.5} fontFamily={FONT}>
          {s}
        </text>
      ))}
      <text x={tagX} y={top + 24} textAnchor="middle" fontSize={isData ? 21 : 19.5} fontFamily={FONT}>
        {tag}
      </text>
      {heading && (
        <text x={(left + right) / 2} y={top - 16.3} textAnchor="middle" fontSize={20} fontFamily={FONT}>
          {heading}
        </text>
      )}
      {letter && (
        <text x={left + 1} y={25} textAnchor="end" fontSize={24} fontFamily={FONT}>
          {letter}
        </text>
      )}
    </g>
  );
}

export default function App() {
  return (
    <svg width={W} height={H} style={{ display: "block", background: "#fff", position: "absolute", left: 0, top: 0 }}>
      <rect width={W} height={H} fill="#fff" />
      <Panel traces={nsData} left={55} right={545} top={49.3} bottom={381.7} heading="N-S COMPONENTS, East wall" letter="a)" tag="DATA" tagX={472} />
      <Panel traces={ewData} left={690.5} right={1180.5} top={49.3} bottom={381.7} heading="E-W COMPONENTS, South wall" letter="b)" tag="DATA" tagX={1100.5} />
      <Panel traces={nsSynth} left={55} right={545} top={460.5} bottom={793} tag="SYNTHETICS" tagX={479.7} />
      <Panel traces={ewSynth} left={690.5} right={1180.5} top={460.5} bottom={793} tag="SYNTHETICS" tagX={1115} />
    </svg>
  );
}
